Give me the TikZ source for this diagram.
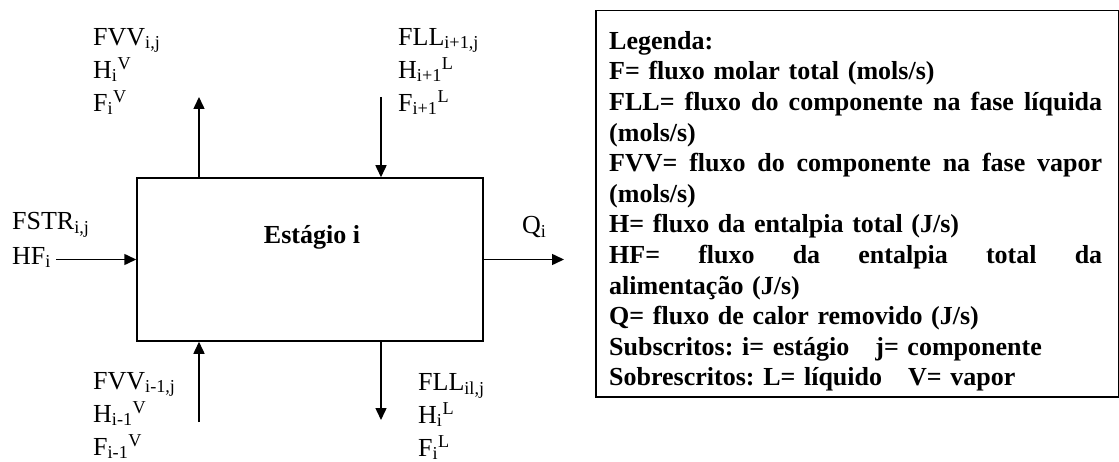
\documentclass[tikz,border=0pt]{standalone}
\usepackage{fontspec}
\setmainfont{Liberation Serif}
\usetikzlibrary{arrows.meta,positioning}
\newcommand{\spreadline}[1]{\makebox[493pt][s]{\spaceskip=0pt\relax #1}}

\begin{document}
\begin{tikzpicture}[x=1pt, y=-1pt, every node/.style={inner sep=0pt},
  flow/.style={line width=1.5pt, -{Triangle[length=12pt,width=11pt]}},
  lbl/.style={align=left, anchor=north west, font=\fontsize{26}{33}\selectfont}]
\useasboundingbox (0,0) rectangle (1119,462);
% Stage block
\node[draw, line width=1.5pt, minimum width=346pt, minimum height=163pt] (stage) at (310,259.5) {};
\node[font=\fontsize{26}{30}\selectfont\bfseries] (title) at (312,237) {Estágio i};
% Stream labels
\node[lbl] (vapout) at (93,28) {FVV\textsubscript{i,j}\\H\textsubscript{i}\textsuperscript{V}\\F\textsubscript{i}\textsuperscript{V}};
\node[lbl] (liqin) at (398,28) {FLL\textsubscript{i+1,j}\\H\textsubscript{i+1}\textsuperscript{L}\\F\textsubscript{i+1}\textsuperscript{L}};
\node[lbl] (vapin) at (93,372) {FVV\textsubscript{i-1,j}\\H\textsubscript{i-1}\textsuperscript{V}\\F\textsubscript{i-1}\textsuperscript{V}};
\node[lbl] (liqout) at (418,373) {FLL\textsubscript{il,j}\\H\textsubscript{i}\textsuperscript{L}\\F\textsubscript{i}\textsuperscript{L}};
\node[lbl] (fstr) at (12,212) {FSTR\textsubscript{i,j}};
\node[lbl] (hf) at (12,247) {HF\textsubscript{i}};
\node[lbl] (heat) at (522,216) {Q\textsubscript{i}};
% Arrow ends
\coordinate (vtop) at (199,97);
\coordinate (ltop) at (381,97);
\coordinate (vbot) at (199,422);
\coordinate (lbot) at (381,420);
\coordinate (qend) at (564,259.5);
% Streams
\draw[flow] (stage.north -| vtop) -- (vtop);
\draw[flow] (ltop) -- (stage.north -| ltop);
\draw[flow] (vbot) -- (stage.south -| vbot);
\draw[flow] (stage.south -| lbot) -- (lbot);
\draw[flow] ([xshift=5pt]hf.east |- stage.west) -- (stage.west);
\draw[flow] (stage.east) -- (qend);
% Legend
\node[draw, line width=1.5pt, anchor=north west, minimum width=522.5pt, minimum height=386pt] (legend) at (595,10) {};
\node[anchor=north west, text width=493pt, align=left, font=\fontsize{26}{30.6}\selectfont\bfseries\frenchspacing]
  (legendtext) at ([shift={(14,21)}]legend.north west)
  {Legenda:\\
   F= fluxo molar total (mols/s)\\
   \spreadline{FLL= fluxo do componente na fase líquida}\\
   (mols/s)\\
   \spreadline{FVV= fluxo do componente na fase vapor}\\
   (mols/s)\\
   H= fluxo da entalpia total (J/s)\\
   \spreadline{HF= fluxo da entalpia total da}\\
   alimentação (J/s)\\
   Q= fluxo de calor removido (J/s)\\
   Subscritos: i= estágio\quad j= componente\\
   Sobrescritos: L= líquido\quad V= vapor};
\end{tikzpicture}
\end{document}
